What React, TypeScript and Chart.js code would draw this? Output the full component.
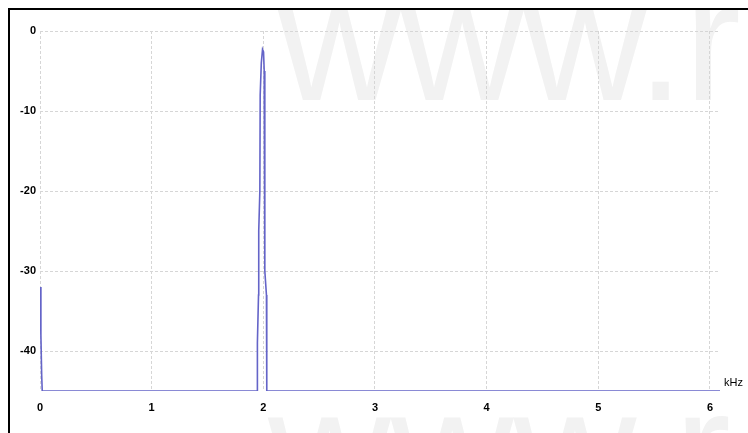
import React, { useEffect, useRef } from "react";
import { Chart, registerables } from "chart.js";

Chart.register(...registerables);

// Spectrum data (frequency in kHz, level in dB)
const freqKHz = [0, 0.008, 0.015, 0.02, 1.944, 1.947, 1.957, 1.959, 1.969, 1.972, 1.982, 1.993, 2.002, 2.008, 2.012, 2.015, 2.028, 2.031, 6.09];
const levelDb = [-32, -38, -43, -45, -45, -39, -33, -25, -20, -8, -4, -2.3, -2.6, -5, -12, -30, -33, -45, -45];

const xMin = 0;
const xMax = 6.09;
const yMin = -45;
const yMax = 0;
const xUnit = "kHz";
const watermark = "www.r";

const watermarkPlugin = {
  id: "watermark",
  beforeDraw(chart: any) {
    const ctx = chart.ctx;
    ctx.save();
    ctx.fillStyle = "#f2f2f2";
    ctx.font = "170px 'Liberation Sans', Arial, sans-serif";
    ctx.textAlign = "left";
    ctx.textBaseline = "alphabetic";
    ctx.fillText(watermark, 268, 90);
    ctx.fillText(watermark, 258, 498);
    ctx.restore();
  },
};

const unitPlugin = {
  id: "unitLabel",
  afterDraw(chart: any) {
    const ctx = chart.ctx;
    const a = chart.chartArea;
    ctx.save();
    ctx.fillStyle = "#000";
    ctx.font = "11px 'Liberation Sans', Arial, sans-serif";
    ctx.textAlign = "left";
    ctx.textBaseline = "middle";
    ctx.fillText(xUnit, a.right + 4, a.bottom - 8);
    ctx.restore();
  },
};

export default function App() {
  const ref = useRef<HTMLCanvasElement | null>(null);

  useEffect(() => {
    if (!ref.current) return;
    const points = freqKHz.map((f, i) => ({ x: f, y: levelDb[i] }));
    const tickFont = { family: "'Liberation Sans', Arial, sans-serif", size: 11, weight: "bold" as const };
    const chart = new Chart(ref.current, {
      type: "line",
      data: {
        datasets: [
          {
            data: points,
            borderColor: "#6464c8",
            borderWidth: 1.6,
            pointRadius: 0,
            tension: 0,
            fill: false,
          },
        ],
      },
      options: {
        animation: false,
        responsive: true,
        maintainAspectRatio: false,
        layout: { padding: { top: 21, right: 28, left: 0, bottom: 0 } },
        plugins: { legend: { display: false }, tooltip: { enabled: false } },
        scales: {
          x: {
            type: "linear",
            min: xMin,
            max: xMax,
            afterFit: (s: any) => {
              s.height = 42;
            },
            ticks: {
              stepSize: 1,
              includeBounds: false,
              color: "#000",
              font: tickFont,
              padding: 10,
              maxRotation: 0,
            },
            grid: { color: "#d6d6d6", drawTicks: false, lineWidth: 1 },
            border: { display: false, dash: [3, 2] },
          },
          y: {
            type: "linear",
            min: yMin,
            max: yMax,
            afterFit: (s: any) => {
              s.width = 30;
            },
            ticks: {
              stepSize: 10,
              includeBounds: false,
              color: "#000",
              font: tickFont,
              padding: 4,
            },
            grid: { color: "#d6d6d6", drawTicks: false, lineWidth: 1 },
            border: { display: false, dash: [3, 2] },
          },
        },
      },
      plugins: [watermarkPlugin, unitPlugin],
    });
    return () => chart.destroy();
  }, []);

  return (
    <div
      style={{
        position: "fixed",
        left: 8,
        top: 8,
        width: 740,
        height: 425,
        boxSizing: "border-box",
        borderTop: "2px solid #000",
        borderLeft: "2px solid #000",
        background: "#fff",
      }}
    >
      <div style={{ position: "relative", width: 738, height: 423 }}>
        <canvas ref={ref} />
      </div>
    </div>
  );
}
